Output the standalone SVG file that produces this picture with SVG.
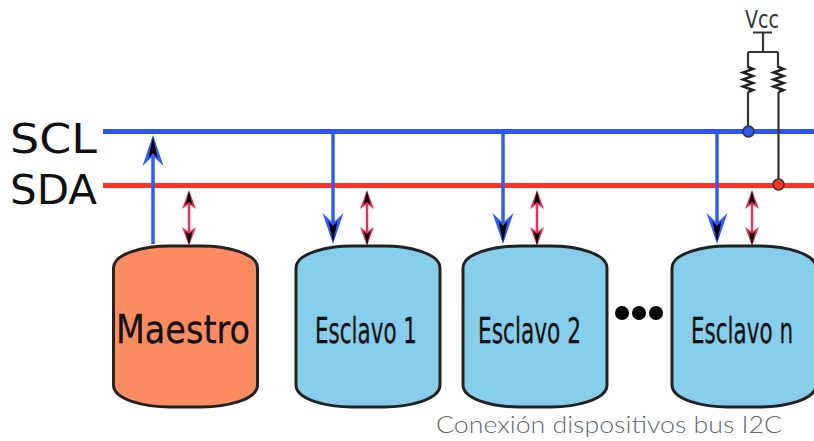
<svg xmlns="http://www.w3.org/2000/svg" width="814" height="441" viewBox="0 0 814 441">
<style>
.box{stroke:#222;stroke-width:3}
.m{fill:#ff8c61}.s{fill:#87ceeb}
.bus{fill:none;stroke-width:5}
.sig{fill:none;stroke:#2f5cf5;stroke-width:3.500}
.dat{fill:none;stroke:#ee2f5e;stroke-width:2.400}
.res{fill:none;stroke:#333;stroke-width:2.200}
.lab{font-family:"DejaVu Sans",sans-serif;fill:#111;stroke:#111;stroke-width:.3}
.cap{font-family:"Lato","Open Sans",sans-serif;font-size:24px;font-weight:300;fill:#5f676e}
</style>
<defs>
<g id="hb"><path d="M0 0L-10.500 -31L0 -21L10.500 -31Z" fill="#2f5cf5"/><path d="M0 -2L-4.500 -23L0 -18L4.500 -23Z" fill="#000"/></g>
<g id="hr"><path d="M0 0L-7 -19L0 -14L7 -19Z" fill="#ee2f5e"/><path d="M0 -1L-3.500 -15L0 -12L3.500 -15Z" fill="#000"/></g>
<path id="body" d="M0 22C0 7 32 0 56 0H88C112 0 144 7 144 22V139C144 154 112 161 88 161H56C32 161 0 154 0 139Z"/>
<path id="zig" d="M0 0L5 2L-5 5.500L5 9L-5 12.500L5 16L-5 19.500L5 23L0 25" fill="none" stroke="#222" stroke-width="2.500"/>
</defs>
<g id="connectors">
<path class="bus" stroke="#2a57f0" d="M103 131.500H814"/>
<path class="bus" stroke="#ff3322" d="M103 185.500H814"/>
<path class="sig" d="M153 244V155"/><use href="#hb" transform="translate(153 135) rotate(180)"/>
<path class="sig" d="M333 131V225"/><use href="#hb" transform="translate(333 244)"/>
<path class="sig" d="M503 131V225"/><use href="#hb" transform="translate(503 244)"/>
<path class="sig" d="M717 131V225"/><use href="#hb" transform="translate(717 244)"/>
<g id="sda-links">
<path class="dat" d="M189 200V235"/><use href="#hr" transform="translate(189 190) rotate(180)"/><use href="#hr" transform="translate(189 246)"/>
<path class="dat" d="M367 200V235"/><use href="#hr" transform="translate(367 190) rotate(180)"/><use href="#hr" transform="translate(367 246)"/>
<path class="dat" d="M537 200V235"/><use href="#hr" transform="translate(537 190) rotate(180)"/><use href="#hr" transform="translate(537 246)"/>
<path class="dat" d="M752 200V235"/><use href="#hr" transform="translate(752 190) rotate(180)"/><use href="#hr" transform="translate(752 246)"/>
</g>
<g id="pullups">
<path class="res" d="M753 32.500H772M763 33V51M748 68V53Q748 52 749 52H777Q778 52 778 53V68"/>
<use href="#zig" transform="translate(748 67)"/>
<use href="#zig" transform="translate(778.500 67)"/>
<path class="res" d="M748 92V131"/>
<path class="res" d="M778.500 92V184"/>
<circle cx="748.500" cy="131.500" r="5.500" fill="#2a57f0" stroke="#333" stroke-width="1.500"/>
<circle cx="778.500" cy="184.500" r="5.500" fill="#ff3322" stroke="#333" stroke-width="1.500"/>
</g>
</g>
<g id="maestro"><use href="#body" class="box m" transform="translate(113.500 246)"/><text class="lab" x="116" y="343" font-size="39" textLength="134" lengthAdjust="spacingAndGlyphs">Maestro</text></g>
<g id="esclavo-1"><use href="#body" class="box s" transform="translate(296 246)"/><text class="lab" x="315" y="343" font-size="35" textLength="102" lengthAdjust="spacingAndGlyphs">Esclavo 1</text></g>
<g id="esclavo-2"><use href="#body" class="box s" transform="translate(463 246)"/><text class="lab" x="478" y="343" font-size="35" textLength="103" lengthAdjust="spacingAndGlyphs">Esclavo 2</text></g>
<g id="esclavo-n"><use href="#body" class="box s" transform="translate(672 246)"/><text class="lab" x="691" y="343" font-size="35" textLength="102" lengthAdjust="spacingAndGlyphs">Esclavo n</text></g>
<g id="dots" fill="#000"><circle cx="622" cy="313" r="7"/><circle cx="639" cy="313" r="7"/><circle cx="656" cy="313" r="7"/></g>
<text class="lab" x="10" y="153" font-size="40" textLength="87" lengthAdjust="spacingAndGlyphs" style="stroke:none">SCL</text>
<text class="lab" x="10" y="204" font-size="40" textLength="87" lengthAdjust="spacingAndGlyphs" style="stroke:none">SDA</text>
<text class="lab" x="745" y="28" font-size="25" textLength="34" lengthAdjust="spacingAndGlyphs" style="fill:#333;stroke:none">Vcc</text>
<text class="cap" x="436" y="433" textLength="346" lengthAdjust="spacingAndGlyphs">Conexión dispositivos bus I2C</text>
</svg>
